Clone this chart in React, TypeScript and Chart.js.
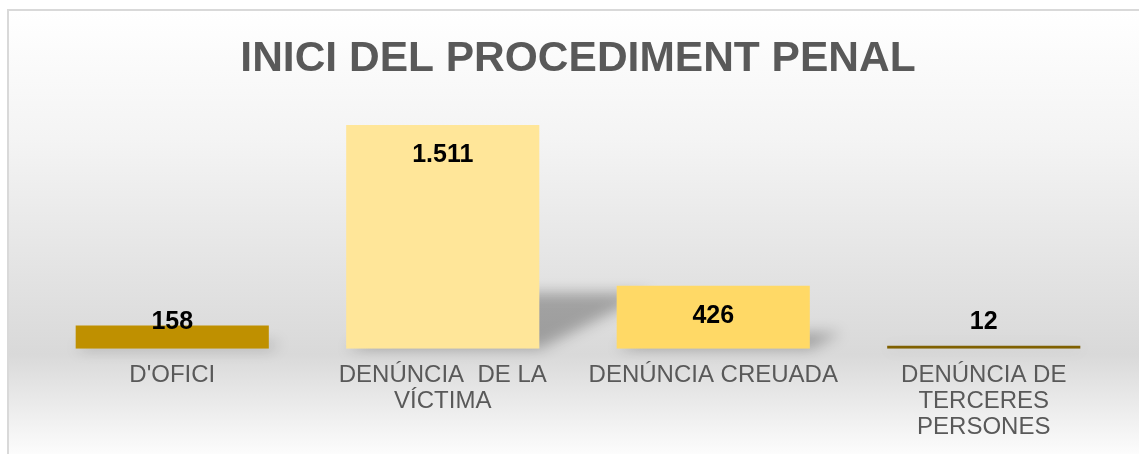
import React, { useEffect, useRef } from "react";
import { Chart, registerables } from "chart.js";

Chart.register(...registerables);

const TITLE = "INICI DEL PROCEDIMENT PENAL";
const categories: (string | string[])[] = [
  "D'OFICI",
  ["DENÚNCIA  DE LA", "VÍCTIMA"],
  "DENÚNCIA CREUADA",
  ["DENÚNCIA DE", "TERCERES", "PERSONES"],
];
const values = [158, 1511, 426, 12];
const valueLabels = ["158", "1.511", "426", "12"];
const barColors = ["#BF9000", "#FFE699", "#FFD966", "#7F6000"];

const shadowPlugin = {
  id: "perspShadow",
  beforeDatasetsDraw(chart: any) {
    const ctx = chart.ctx;
    const meta = chart.getDatasetMeta(0);
    ctx.save();
    ctx.filter = "blur(7px)";
    ctx.fillStyle = "rgba(0,0,0,0.28)";
    meta.data.forEach((bar: any) => {
      const { x, y, base, width } = bar.getProps(["x", "y", "base", "width"], true);
      const h = base - y;
      const left = x - width / 2;
      const right = x + width / 2;
      const dx = 0.5 * h;
      const dy = 0.25 * h;
      ctx.beginPath();
      ctx.moveTo(left, base);
      ctx.lineTo(right, base);
      ctx.lineTo(right + dx, base - dy);
      ctx.lineTo(left + dx, base - dy);
      ctx.closePath();
      ctx.fill();
    });
    ctx.restore();
  },
};

const valueLabelPlugin = {
  id: "valueLabels",
  afterDatasetsDraw(chart: any) {
    const ctx = chart.ctx;
    const meta = chart.getDatasetMeta(0);
    ctx.save();
    ctx.font = "bold 25px 'Liberation Sans', Arial, sans-serif";
    ctx.fillStyle = "#000000";
    ctx.textAlign = "center";
    ctx.textBaseline = "middle";
    meta.data.forEach((bar: any, i: number) => {
      const { x, y, base } = bar.getProps(["x", "y", "base"], true);
      const h = base - y;
      const ly = h > 45 ? y + 30 : base - 27;
      ctx.fillText(valueLabels[i], x, ly);
    });
    ctx.restore();
  },
};

export default function App() {
  const canvasRef = useRef<HTMLCanvasElement | null>(null);

  useEffect(() => {
    if (!canvasRef.current) return;
    const chart = new Chart(canvasRef.current, {
      type: "bar",
      data: {
        labels: categories,
        datasets: [
          {
            data: values,
            backgroundColor: barColors,
            borderWidth: 0,
            barPercentage: 0.714,
            categoryPercentage: 1,
            minBarLength: 3,
          },
        ],
      },
      options: {
        responsive: false,
        animation: false,
        devicePixelRatio: 1,
        layout: { padding: { left: 28, right: 27, top: 0, bottom: 12 } },
        plugins: {
          legend: { display: false },
          tooltip: { enabled: false },
          title: {
            display: true,
            text: TITLE,
            color: "#595959",
            font: { family: "'Liberation Sans', Arial, sans-serif", size: 42.5, weight: "bold", lineHeight: 1.2 },
            padding: { top: 23, bottom: 12 },
          },
        },
        scales: {
          x: {
            grid: { display: false, drawTicks: false },
            border: { display: false },
            ticks: {
              color: "#595959",
              padding: 13,
              maxRotation: 0,
              autoSkip: false,
              font: { family: "'Liberation Sans', Arial, sans-serif", size: 24, lineHeight: 1.1 },
            },
          },
          y: {
            display: false,
            min: 0,
            max: 1700,
          },
        },
      },
      plugins: [shadowPlugin, valueLabelPlugin],
    });
    return () => chart.destroy();
  }, []);

  return (
    <div style={{ position: "fixed", left: 0, top: 0, width: "100vw", height: "100vh", overflow: "hidden", background: "#ffffff" }}>
      <div
        style={{
          position: "absolute",
          left: 7,
          top: 9,
          width: 1137,
          height: 470,
          border: "2px solid #d9d9d9",
          background: "linear-gradient(to bottom, #ffffff 0%, #f4f4f4 27%, #d9d9d9 73%, #ffffff 96%)",
        }}
      >
        <canvas ref={canvasRef} width={1137} height={455} style={{ display: "block" }} />
      </div>
    </div>
  );
}
